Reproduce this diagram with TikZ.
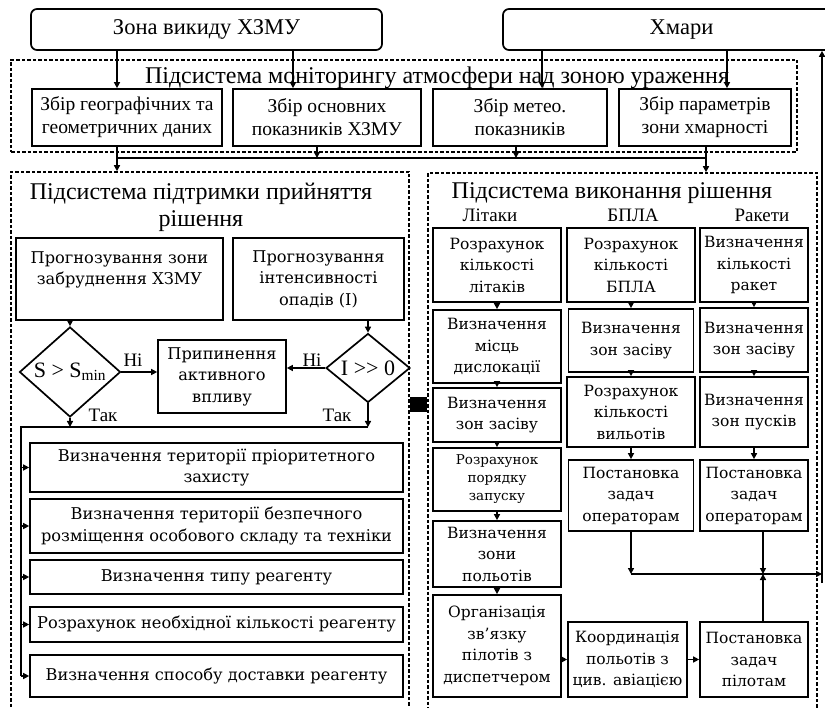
\documentclass[tikz,border=0pt]{standalone}
\usepackage{fontspec}
\setmainfont{DejaVu Serif}
\newfontfamily\tms{Liberation Serif}
\usetikzlibrary{shapes.geometric,arrows.meta}
\def\topfont{\tms\fontsize{22.5}{26}\selectfont}
\def\monfont{\tms\fontsize{19.5}{23}\selectfont}
\def\ttlfont{\tms\fontsize{24}{27}\selectfont}
\def\labfont{\tms\fontsize{19}{22}\selectfont}
\def\diafont{\tms\fontsize{22}{24}\selectfont}
\def\boxfont{\fontsize{15.5}{21.5}\selectfont}
\def\wideboxfont{\fontsize{16.2}{21.5}\selectfont}
\def\smallfont{\fontsize{13.5}{18}\selectfont}

\begin{document}
\begin{tikzpicture}[x=1pt,y=-1pt,
	sz/.style 2 args={minimum width=#1,minimum height=#2},
	box/.style={draw,line width=1.7pt,inner sep=0pt,align=center,font=\boxfont},
	wbox/.style={box,font=\wideboxfont},
	mon/.style={box,font=\monfont},
	topbox/.style={box,rounded corners=6pt,font=\topfont},
	sub/.style={draw,line width=1.6pt,dash pattern=on 3.5pt off 2pt,inner sep=0pt},
	dec/.style={diamond,draw,line width=1.7pt,inner sep=0pt,font=\diafont},
	ttl/.style={font=\ttlfont,align=center},
	lab/.style={font=\labfont},
	arr/.style={-{Triangle[length=6pt,width=6pt]},line width=1.5pt},
	wire/.style={line width=1.5pt}]
	\useasboundingbox (0,0) rectangle (825,708);
	\clip (0,0) rectangle (825,708);
	\node [topbox,sz={351}{41}] (zone) at (206.5,29.5) {Зона викиду ХЗМУ};
	\node [topbox,sz={357}{41}] (clouds) at (681.5,29.5) {Хмари};
	\node [sub,sz={786}{92}] (monit) at (404,106) {};
		\node [ttl] (monit-t) at (437,78) {Підсистема моніторингу атмосфери над зоною ураження};
	\node [mon,sz={190}{57}] (m1) at (127,117.5) {Збір географічних та\\геометричних даних};
	\node [mon,sz={188}{57}] (m2) at (327,117.5) {Збір основних\\показників ХЗМУ};
	\node [mon,sz={174}{57}] (m3) at (520,117.5) {Збір метео.\\показників};
	\node [mon,sz={172}{57}] (m4) at (705,117.5) {Збір параметрів\\зони хмарності};
	\coordinate (c1) at (117,158); \coordinate (c2) at (317,158);
	\coordinate (c3) at (516,158); \coordinate (c4) at (706,158);
	\coordinate (t2) at (293,0); \coordinate (t3) at (542,0); \coordinate (t4) at (727,0);
	\draw [arr] (zone.south -| c1) -- (m1.north -| c1);
	\draw [arr] (zone.south -| t2) -- (m2.north -| t2);
	\draw [arr] (clouds.south -| t3) -- (m3.north -| t3);
	\draw [arr] (clouds.south -| t4) -- (m4.north -| t4);
	% left part
	\node [sub,sz={398}{548}] (left) at (210,446) {};
		\node [ttl] (left-t) at (201,207) {Підсистема підтримки прийняття\\рішення};
	\node [wbox,sz={207}{82}] (p1) at (119.5,279) {Прогнозування зони\\забруднення ХЗМУ\\\mbox{}};
	\node [wbox,sz={171}{82}] (p2) at (318.5,279) {Прогнозування\\інтенсивності\\опадів (І)};
	\node [dec,sz={101}{71}] (d1) at (70,372) {S > S\textsubscript{min}};
	\node [dec,sz={84}{63}] (d2) at (368,368) {I >> 0};
	\node [wbox,sz={128}{73}] (stop) at (222,376.5) {Припинення\\активного\\впливу};
		\node [lab] (no1) at (133,360) {Ні};
		\node [lab] (no2) at (312,360) {Ні};
		\node [lab] (yes1) at (103,415) {Так};
		\node [lab] (yes2) at (337,415) {Так};
	\node [wbox,sz={373}{49}] (prio) at (216.5,467.5) {Визначення території пріоритетного\\захисту};
	\node [wbox,sz={373}{54}] (safe) at (216.5,526) {Визначення території безпечного\\розміщення особового складу та техніки};
	\node [wbox,sz={373}{34}] (kind) at (216.5,577) {Визначення типу реагенту};
	\node [wbox,sz={373}{35}] (amount) at (216.5,624.5) {Розрахунок необхідної кількості реагенту};
	\node [wbox,sz={373}{42}] (deliv) at (216.5,676) {Визначення способу доставки реагенту};
	\coordinate (bus) at (21,427);
	\draw [arr] (p1.south -| d1.north) -- (d1.north);
	\draw [arr] (p2.south -| d2.north) -- (d2.north);
	\draw [arr] (d1.east) -- (stop.west |- d1.east);
	\draw [arr] (d2.west) -- (stop.east |- d2.west);
	\draw [arr] (d1.south) -- (d1.south |- bus);
	\draw [arr] (d2.south) -- (d2.south |- bus);
	\draw [wire] (d2.south |- bus) -- (bus) -- (bus |- deliv.west);
	\foreach \n in {prio,safe,kind,amount,deliv}
		\draw [arr] (bus |- \n.west) -- (\n.west);
	% right part
	\node [sub,sz={389}{547}] (right) at (622.5,446.5) {};
		\node [ttl] (right-t) at (612,193) {Підсистема виконання рішення};
		\node [lab] (planes) at (490,215) {Літаки};
		\node [lab] (uav) at (633,215) {БПЛА};
		\node [lab] (rockets) at (762,215) {Ракети};
	\node [box,sz={128}{74}] (r11) at (497,265) {Розрахунок\\кількості\\літаків};
	\node [box,sz={128}{73}] (r12) at (497,346.5) {Визначення\\місць\\дислокації};
	\node [box,sz={128}{54}] (r13) at (497,415) {Визначення\\зон засіву};
	\node [box,sz={128}{63},font=\smallfont] (r14) at (497,479.5) {Розрахунок\\порядку\\запуску};
	\node [box,sz={128}{66}] (r15) at (497,554) {Визначення\\зони\\польотів};
	\node [box,sz={128}{102}] (r16) at (497,646) {Організація\\зв’язку\\пілотів з\\диспетчером};
	\node [box,sz={128}{74}] (r21) at (631,265) {Розрахунок\\кількості\\БПЛА};
	\node [box,sz={125}{63}] (r22) at (631,340.5) {Визначення\\зон засіву};
	\node [box,sz={128}{70}] (r23) at (631,412) {Розрахунок\\кількості\\вильотів};
	\node [box,sz={125}{71}] (r24) at (631,495.5) {Постановка\\задач\\операторам};
	\node [box,sz={108}{74}] (r31) at (754,265) {Визначення\\кількості\\ракет};
	\node [box,sz={108}{64}] (r32) at (754,340) {Визначення\\зон засіву};
	\node [box,sz={108}{70}] (r33) at (754,412) {Визначення\\зон пусків};
	\node [box,sz={108}{71}] (r34) at (754,495.5) {Постановка\\задач\\операторам};
	\node [box,sz={119}{75}] (koord) at (627.5,659.5) {Координація\\польотів з\\цив. авіацією};
	\node [box,sz={108}{75}] (pilots) at (754,659.5) {Постановка\\задач\\пілотам};
	\foreach \u/\v in {r11/r12,r12/r13,r13/r14,r14/r15,r15/r16,r21/r22,r22/r23,r23/r24,r31/r32,r32/r33,r33/r34}
		\draw [arr] (\u) -- (\v);
	\draw [arr] (r16.east |- koord.west) -- (koord.west);
	\draw [arr] (koord) -- (pilots);
	\coordinate (jn) at (763,574); \coordinate (ret) at (822,583);
	\draw [arr] (r24.south) -- (r24.south |- jn);
	\draw [arr] (r34.south -| jn) -- (jn);
	\draw [arr] (pilots.north -| jn) -- (jn);
	\draw [arr] (r24.south |- jn) -- (ret |- jn);
	\draw [arr] (ret) -- (clouds.south -| ret);
	% links between parts
	\draw [wire] (c1) -- (c4);
	\draw [arr] (m1.south -| c1) -- (left.north -| c1);
	\draw [arr] (m2.south -| c2) -- (c2);
	\draw [arr] (m3.south -| c3) -- (c3);
	\draw [arr] (m4.south -| c4) -- (right.north -| c4);
	\coordinate (link) at (0,405);
	\draw [line width=15pt] (left.east |- link) -- (right.west |- link);
\end{tikzpicture}
\end{document}
